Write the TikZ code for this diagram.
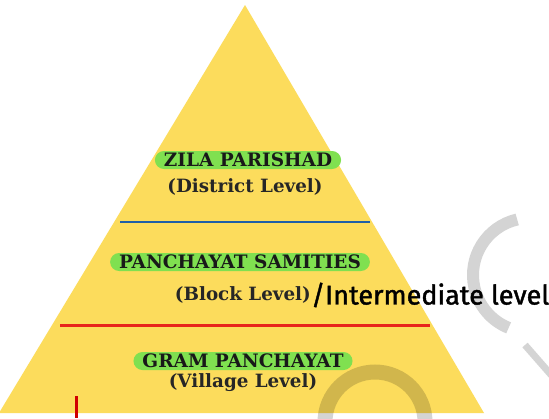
\documentclass[tikz,border=0pt]{standalone}
\usepackage{fontspec}
\setmainfont{DejaVu Serif}
\newfontfamily\handfont[FakeBold=1.5]{Fira Sans}
\definecolor{pyr}{HTML}{FCDC5C}
\definecolor{hl}{HTML}{80E050}
\definecolor{blueline}{HTML}{1F5FA8}
\definecolor{redline}{HTML}{E8241C}
\definecolor{markred}{HTML}{D00000}
\begin{document}
\begin{tikzpicture}[x=1pt,y=-1pt,
  title/.style={fill=hl,rounded corners=9pt,inner xsep=9pt,inner ysep=2pt,font=\bfseries\fontsize{18.5}{18.5}\selectfont,text=black!90},
  sub/.style={font=\bfseries\fontsize{18.3}{18.3}\selectfont,text=black!85},
  wm/.style={line width=12pt,black,opacity=0.17}]
\useasboundingbox (0,0) rectangle (549,418);
\fill[white] (0,0) rectangle (549,418);
% pyramid
\coordinate (apex) at (245,5);
\coordinate (bl) at (-1,413);
\coordinate (br) at (484,413);
\fill[pyr] (apex) -- (br) -- (bl) -- cycle;
% watermark
\draw[wm] (530,275) ++(257:57) arc[start angle=257,end angle=112,radius=57];
\draw[wm,line width=7pt] (525,345) -- (560,385);
\draw[wm,line width=15pt] (375,422) ++(180:50) arc[start angle=180,end angle=360,radius=50];
% lines
\coordinate (b1) at (120,222); \coordinate (b2) at (370,222);
\coordinate (r1) at (60,325); \coordinate (r2) at (430,325);
\draw[blueline,line width=2.8pt] (b1) -- (b2);
\draw[redline,line width=3pt] (r1) -- (r2);
% labels
\node[title] (zp) at (248,160) {ZILA PARISHAD};
\node[sub] (dl) at (245,187) {(District Level)};
\node[title] (ps) at (240,262) {PANCHAYAT SAMITIES};
\node[sub,anchor=east,inner xsep=0pt] (bl2) at (311,295) {(Block Level)};
\node[anchor=west,inner xsep=0pt,font=\handfont\fontsize{27}{27}\selectfont] (im) at (bl2.east) {/Intermediate level};
\node[title] (gp) at (243,361) {GRAM PANCHAYAT};
\node[sub] (vl) at (243,383) {(Village Level)};
% red mark
\coordinate (m1) at (76,396); \coordinate (m2) at (76,418);
\draw[markred,line width=3pt] (m1) -- (m2);
\end{tikzpicture}
\end{document}
